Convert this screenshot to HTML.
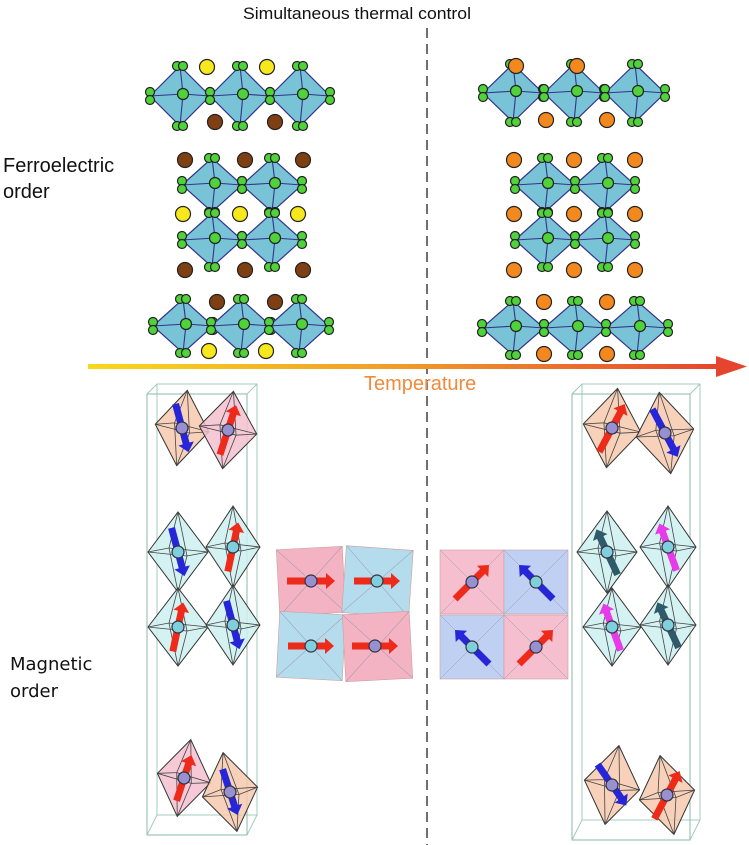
<!DOCTYPE html>
<html><head><meta charset="utf-8"><style>
html,body{margin:0;padding:0;background:#fff;}
svg{display:block;}
</style></head><body>
<svg id="s" width="749" height="845" viewBox="0 0 749 845" xmlns="http://www.w3.org/2000/svg">
<defs>
<linearGradient id="tg" x1="0" x2="1" y1="0" y2="0">
<stop offset="0" stop-color="#f7d91a"/><stop offset="0.5" stop-color="#f09a2a"/><stop offset="1" stop-color="#e5452e"/>
</linearGradient>
</defs>
<g id="g"></g>
<line x1="427" y1="28" x2="427" y2="845" stroke="#222" stroke-width="1.3" stroke-dasharray="10,6"/>
<rect x="88" y="364" width="632" height="5" fill="url(#tg)"/>
<polygon points="716,356 747,366.5 716,377" fill="#e5452e"/>
<text x="243" y="19" font-family="Liberation Sans, sans-serif" font-size="17" textLength="228" lengthAdjust="spacingAndGlyphs" fill="#111">Simultaneous thermal control</text>
<text x="3" y="172" font-family="Liberation Sans, sans-serif" font-size="20" fill="#111">Ferroelectric</text>
<text x="3" y="198" font-family="Liberation Sans, sans-serif" font-size="20" fill="#111">order</text>
<text x="10" y="670" font-family="DejaVu Sans, sans-serif" font-size="18" fill="#111">Magnetic</text>
<text x="10" y="697" font-family="DejaVu Sans, sans-serif" font-size="18" fill="#111">order</text>
<text x="364" y="390" font-family="Liberation Sans, sans-serif" font-size="20" fill="#f08a3a">Temperature</text>
</svg>
<script>
var G=document.getElementById('g'),NS='http://www.w3.org/2000/svg';
function el(t,a){var e=document.createElementNS(NS,t);for(var k in a)e.setAttribute(k,a[k]);G.appendChild(e);return e;}
function atom(x,y,r,f){el('circle',{cx:x,cy:y,r:r,fill:f,stroke:'#222','stroke-width':1.2});}
function foct(cx,cy,w,h){
 var l=cx-w/2,r=cx+w/2,t=cy-h/2,b=cy+h/2;
 el('polygon',{points:l+','+cy+' '+cx+','+t+' '+r+','+cy+' '+cx+','+b,fill:'#79c3d6',stroke:'#33338a','stroke-width':1.2});
 el('path',{d:'M'+l+' '+cy+'L'+(cx+3)+' '+(cy-2)+'L'+r+' '+cy+'M'+cx+' '+t+'L'+(cx+3)+' '+(cy-2)+'L'+cx+' '+b,stroke:'#33338a','stroke-width':1.1,fill:'none'});
 var g='#4fd23a';
 atom(cx-3,t,4.5,g);atom(cx+3,t,4.5,g);atom(cx-3,b,4.5,g);atom(cx+3,b,4.5,g);
 atom(l,cy-4,4.5,g);atom(l,cy+4,4.5,g);atom(r,cy-4,4.5,g);atom(r,cy+4,4.5,g);
 atom(cx+3,cy-2,5.5,g);
}
var Y='#f6e81c',B='#7e3f12',O='#f3891e';
[180,240,300].forEach(function(x){foct(x,96,60,60);});
atom(207,67,7.5,Y);atom(267,67,7.5,Y);atom(215,122,7.5,B);atom(275,122,7.5,B);
[185,240].forEach(function(y){[212,272].forEach(function(x){foct(x,y,60,54);});});
[160,270].forEach(function(y){[185,245,303].forEach(function(x){atom(x,y,7.5,B);});});
[183,240,298].forEach(function(x){atom(x,214,7.5,Y);});
[183,241,299].forEach(function(x){foct(x,326,60,54);});
atom(217,302,7.5,B);atom(275,302,7.5,B);atom(209,351,7.5,Y);atom(266,351,7.5,Y);
[513,574,635].forEach(function(x){foct(x,93,60,58);});
atom(516,66,7.5,O);atom(577,66,7.5,O);atom(546,120,7.5,O);atom(607,120,7.5,O);
[185,240].forEach(function(y){[545,605].forEach(function(x){foct(x,y,60,54);});});
[160,214,270].forEach(function(y){[514,574,635].forEach(function(x){atom(x,y,7.5,O);});});
[513,575,637].forEach(function(x){foct(x,328,62,54);});
atom(544,302,7.5,O);atom(607,302,7.5,O);atom(544,354,7.5,O);atom(607,354,7.5,O);

function moct(cx,cy,w,h,f,rot){
 var g=el('g',{transform:'rotate('+(rot||0)+' '+cx+' '+cy+')'});
 function p(t,a){var e=document.createElementNS(NS,t);for(var k in a)e.setAttribute(k,a[k]);g.appendChild(e);}
 var l=cx-w/2,r=cx+w/2,t=cy-h/2,b=cy+h/2;
 p('polygon',{points:l+','+cy+' '+cx+','+t+' '+r+','+cy+' '+cx+','+b,fill:f,'fill-opacity':0.85,stroke:'#333','stroke-width':1});
 p('path',{d:'M'+l+' '+cy+'L'+(cx-w*0.15)+' '+(cy-4)+'L'+r+' '+cy+'L'+(cx+w*0.15)+' '+(cy+4)+'Z M'+cx+' '+t+'L'+(cx-w*0.15)+' '+(cy-4)+'L'+cx+' '+b+'L'+(cx+w*0.15)+' '+(cy+4)+'Z',fill:'none',stroke:'#444','stroke-width':0.8});
}
function arr(cx,cy,ang,len,col,ac){
 var g=el('g',{transform:'translate('+cx+' '+cy+') rotate('+ang+')'});
 var h=len/2;
 var e=document.createElementNS(NS,'polygon');
 e.setAttribute('points',(-h)+',-3.5 '+(h-9)+',-3.5 '+(h-9)+',-8 '+h+',0 '+(h-9)+',8 '+(h-9)+',3.5 '+(-h)+',3.5');
 e.setAttribute('fill',col);g.appendChild(e);
 var c=document.createElementNS(NS,'circle');c.setAttribute('r',6);c.setAttribute('fill',ac);c.setAttribute('stroke','#334');c.setAttribute('stroke-width',1.2);g.appendChild(c);
}
var PK='#f4c0d0',PE='#f6c9ad',CY='#cdf0f0',RD='#ee2a1a',BL='#2626d8',PU='#9890d0',AC='#7fd0dc';
function box(x1,y1,x2,y2){
 el('rect',{x:x1,y:y1+10,width:x2-x1-10,height:y2-y1-10,fill:'none',stroke:'#8ab8a8','stroke-width':1});
 el('rect',{x:x1+10,y:y1,width:x2-x1-10,height:y2-y1-20,fill:'none',stroke:'#9cc8b8','stroke-width':0.9});
 el('path',{d:'M'+x1+' '+(y1+10)+'L'+(x1+10)+' '+y1+'M'+(x2-10)+' '+(y1+10)+'L'+x2+' '+y1+'M'+(x2-10)+' '+y2+'L'+x2+' '+(y2-20)+'M'+x1+' '+y2+'L'+(x1+10)+' '+(y2-20),stroke:'#9cc8b8','stroke-width':0.9,fill:'none'});
}
box(147,384,257,835);
moct(182,428,54,76,PE,8);arr(182,428,75,50,BL,PU);
moct(228,430,58,78,PK,8);arr(228,430,-72,52,RD,PU);
moct(178,552,60,80,CY,0);arr(178,552,75,50,BL,AC);
moct(233,547,54,82,CY,0);arr(233,547,-78,50,RD,AC);
moct(178,627,60,78,CY,0);arr(178,627,-78,50,RD,AC);
moct(233,625,54,80,CY,0);arr(233,625,75,50,BL,AC);
moct(184,778,54,78,PK,10);arr(184,778,-72,48,RD,PU);
moct(230,792,56,80,PE,-10);arr(230,792,72,48,BL,PU);

box(572,384,700,840);
moct(612,428,58,80,PE,8);arr(612,428,-62,54,RD,PU);
moct(665,433,58,82,PE,-8);arr(665,433,62,54,BL,PU);
moct(607,552,60,82,CY,0);arr(607,552,-115,50,'#2e5a6a',AC);
moct(668,547,56,82,CY,0);arr(668,547,-110,50,'#e83ae8',AC);
moct(612,627,58,78,CY,0);arr(612,627,-110,50,'#e83ae8',AC);
moct(668,625,56,80,CY,0);arr(668,625,-115,50,'#2e5a6a',AC);
moct(612,785,56,80,PE,10);arr(612,785,55,50,BL,PU);
moct(667,795,56,80,PE,-10);arr(667,795,-62,54,RD,PU);

function sq(x,y,s,f,rot){
 var g=el('g',{transform:'rotate('+rot+' '+(x+s/2)+' '+(y+s/2)+')'});
 var r=document.createElementNS(NS,'rect');r.setAttribute('x',x);r.setAttribute('y',y);r.setAttribute('width',s);r.setAttribute('height',s);r.setAttribute('fill',f);r.setAttribute('stroke','#c9a0a0');r.setAttribute('stroke-width',0.6);g.appendChild(r);
 var p=document.createElementNS(NS,'path');p.setAttribute('d','M'+x+' '+y+'L'+(x+s)+' '+(y+s)+'M'+(x+s)+' '+y+'L'+x+' '+(y+s));p.setAttribute('stroke','#99a');p.setAttribute('stroke-width',0.5);g.appendChild(p);
}
sq(278,548,66,'#f4b3c3',-3);sq(344,548,67,'#b5dced',4);
sq(278,613,66,'#b5dced',3);sq(344,613,67,'#f4b3c3',-3);
arr(311,581,0,48,RD,PU);arr(377,581,0,46,RD,AC);
arr(311,646,0,46,RD,AC);arr(375,646,0,46,RD,PU);
sq(440,550,64,'#f6bfd0',0);sq(504,550,64,'#bfd0f3',0);
sq(440,615,64,'#bfd0f3',0);sq(504,615,64,'#f6bfd0',0);
arr(472,582,-45,48,RD,PU);arr(536,582,-135,48,BL,AC);
arr(472,647,-135,48,BL,AC);arr(536,647,-45,48,RD,PU);
</script>
</body></html>
